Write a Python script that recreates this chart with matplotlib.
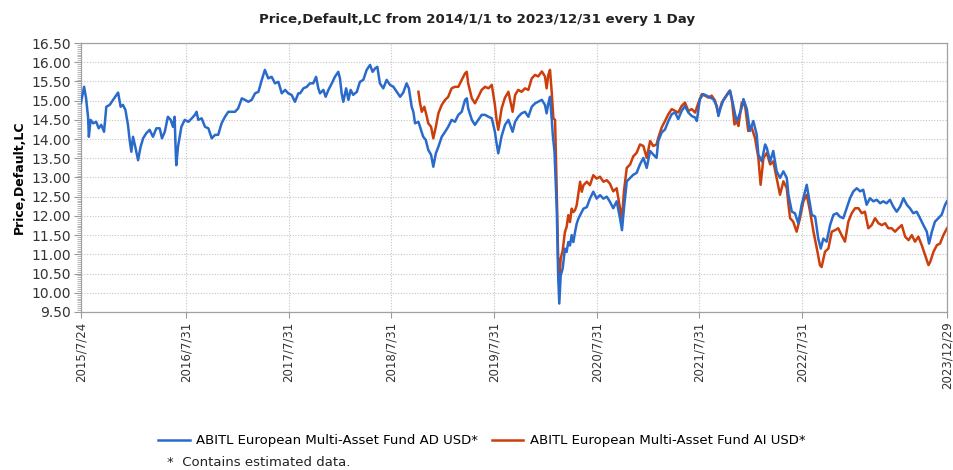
import matplotlib
matplotlib.use("Agg")
import matplotlib.pyplot as plt
from matplotlib.ticker import MultipleLocator, FormatStrFormatter
import pandas as pd

# ---- data ----
ad_dates = [
    "2015-07-24", "2015-08-04", "2015-08-11", "2015-08-18", "2015-08-21", "2015-08-27", "2015-09-05", "2015-09-16",
    "2015-09-25", "2015-10-04", "2015-10-14", "2015-10-22", "2015-11-03", "2015-11-15", "2015-11-27", "2015-12-03",
    "2015-12-12", "2015-12-20", "2015-12-29", "2016-01-07", "2016-01-13", "2016-01-19", "2016-01-25", "2016-02-02",
    "2016-02-12", "2016-02-21", "2016-03-01", "2016-03-12", "2016-03-24", "2016-04-05", "2016-04-17", "2016-04-29",
    "2016-05-07", "2016-05-17", "2016-05-28", "2016-06-07", "2016-06-15", "2016-06-21", "2016-06-25", "2016-06-27",
    "2016-07-03", "2016-07-15", "2016-07-27", "2016-08-09", "2016-08-21", "2016-09-01", "2016-09-07", "2016-09-13",
    "2016-09-25", "2016-10-07", "2016-10-19", "2016-10-31", "2016-11-12", "2016-11-23", "2016-12-05", "2016-12-17",
    "2016-12-29", "2017-01-10", "2017-01-22", "2017-02-02", "2017-02-15", "2017-02-26", "2017-03-10", "2017-03-22",
    "2017-04-03", "2017-04-15", "2017-04-27", "2017-05-08", "2017-05-20", "2017-06-01", "2017-06-13", "2017-06-25",
    "2017-07-07", "2017-07-19", "2017-07-30", "2017-08-11", "2017-08-23", "2017-09-04", "2017-09-10", "2017-09-22",
    "2017-10-04", "2017-10-15", "2017-10-27", "2017-11-06", "2017-11-14", "2017-11-20", "2017-12-02", "2017-12-10",
    "2017-12-20", "2018-01-01", "2018-01-12", "2018-01-24", "2018-01-30", "2018-02-05", "2018-02-11", "2018-02-21",
    "2018-03-01", "2018-03-09", "2018-03-18", "2018-03-31", "2018-04-11", "2018-04-23", "2018-05-05", "2018-05-17",
    "2018-05-26", "2018-06-04", "2018-06-12", "2018-06-21", "2018-07-03", "2018-07-15", "2018-07-27", "2018-08-08",
    "2018-08-20", "2018-09-01", "2018-09-12", "2018-09-24", "2018-10-02", "2018-10-12", "2018-10-18", "2018-10-24",
    "2018-11-05", "2018-11-14", "2018-11-22", "2018-12-01", "2018-12-10", "2018-12-20", "2018-12-28", "2019-01-06",
    "2019-01-15", "2019-01-27", "2019-02-08", "2019-02-19", "2019-03-03", "2019-03-15", "2019-03-27", "2019-04-08",
    "2019-04-20", "2019-04-26", "2019-05-01", "2019-05-14", "2019-05-25", "2019-06-06", "2019-06-18", "2019-06-30",
    "2019-07-12", "2019-07-24", "2019-08-04", "2019-08-10", "2019-08-16", "2019-08-28", "2019-09-09", "2019-09-21",
    "2019-10-06", "2019-10-15", "2019-10-26", "2019-11-07", "2019-11-19", "2019-12-01", "2019-12-13", "2019-12-25",
    "2020-01-05", "2020-01-18", "2020-01-29", "2020-02-04", "2020-02-10", "2020-02-16", "2020-02-22", "2020-02-26",
    "2020-03-03", "2020-03-11", "2020-03-16", "2020-03-20", "2020-03-25", "2020-04-01", "2020-04-09", "2020-04-15",
    "2020-04-21", "2020-04-27", "2020-05-03", "2020-05-09", "2020-05-15", "2020-05-21", "2020-05-27", "2020-06-02",
    "2020-06-14", "2020-06-26", "2020-07-07", "2020-07-19", "2020-07-31", "2020-08-12", "2020-08-24", "2020-09-05",
    "2020-09-16", "2020-09-28", "2020-10-10", "2020-10-22", "2020-10-29", "2020-11-05", "2020-11-15", "2020-11-27",
    "2020-12-08", "2020-12-20", "2021-01-01", "2021-01-13", "2021-01-25", "2021-02-06", "2021-02-17", "2021-03-01",
    "2021-03-07", "2021-03-19", "2021-03-31", "2021-04-12", "2021-04-24", "2021-05-06", "2021-05-17", "2021-05-29",
    "2021-06-10", "2021-06-22", "2021-07-04", "2021-07-16", "2021-07-22", "2021-08-02", "2021-08-14", "2021-08-26",
    "2021-09-07", "2021-09-19", "2021-10-01", "2021-10-07", "2021-10-13", "2021-10-24", "2021-11-05", "2021-11-17",
    "2021-11-23", "2021-12-05", "2021-12-11", "2021-12-17", "2021-12-29", "2022-01-04", "2022-01-16", "2022-01-27",
    "2022-02-08", "2022-02-20", "2022-02-26", "2022-03-10", "2022-03-22", "2022-03-28", "2022-04-09", "2022-04-20",
    "2022-05-02", "2022-05-14", "2022-05-26", "2022-06-07", "2022-06-13", "2022-06-25", "2022-07-06", "2022-07-18",
    "2022-07-30", "2022-08-11", "2022-08-17", "2022-08-23", "2022-09-04", "2022-09-16", "2022-09-27", "2022-10-06",
    "2022-10-15", "2022-10-27", "2022-11-08", "2022-11-20", "2022-12-02", "2022-12-13", "2022-12-25", "2023-01-06",
    "2023-01-18", "2023-01-30", "2023-02-11", "2023-02-23", "2023-03-06", "2023-03-18", "2023-03-30", "2023-04-11",
    "2023-04-23", "2023-05-05", "2023-05-16", "2023-05-28", "2023-06-09", "2023-06-21", "2023-07-03", "2023-07-15",
    "2023-07-27", "2023-08-08", "2023-08-19", "2023-08-31", "2023-09-12", "2023-09-24", "2023-10-06", "2023-10-18",
    "2023-10-26", "2023-11-05", "2023-11-16", "2023-11-28", "2023-12-10", "2023-12-22", "2023-12-29",
]
ad_values = [
    14.95, 15.36, 15.07, 14.58, 14.06, 14.50, 14.41, 14.45,
    14.28, 14.37, 14.19, 14.84, 14.89, 15.02, 15.15, 15.21,
    14.84, 14.89, 14.76, 14.37, 13.98, 13.67, 14.06, 13.80,
    13.45, 13.80, 14.02, 14.15, 14.24, 14.06, 14.28, 14.28,
    14.02, 14.19, 14.58, 14.50, 14.32, 14.58, 13.63, 13.32,
    13.80, 14.32, 14.50, 14.45, 14.54, 14.63, 14.71, 14.50,
    14.54, 14.32, 14.28, 14.02, 14.11, 14.11, 14.41, 14.58,
    14.71, 14.71, 14.71, 14.80, 15.06, 15.02, 14.97, 15.02,
    15.19, 15.23, 15.54, 15.80, 15.58, 15.62, 15.45, 15.49,
    15.19, 15.28, 15.19, 15.15, 14.97, 15.19, 15.19, 15.32,
    15.36, 15.45, 15.45, 15.62, 15.32, 15.19, 15.28, 15.10,
    15.28, 15.45, 15.62, 15.75, 15.58, 15.19, 14.97, 15.32,
    15.02, 15.28, 15.15, 15.23, 15.49, 15.54, 15.80, 15.93,
    15.75, 15.84, 15.88, 15.45, 15.32, 15.54, 15.41, 15.36,
    15.23, 15.10, 15.21, 15.45, 15.32, 14.84, 14.71, 14.41,
    14.45, 14.24, 14.06, 13.98, 13.72, 13.59, 13.28, 13.63,
    13.80, 14.06, 14.19, 14.32, 14.50, 14.45, 14.63, 14.71,
    15.02, 15.06, 14.80, 14.50, 14.37, 14.50, 14.63, 14.63,
    14.58, 14.54, 14.19, 13.89, 13.63, 14.08, 14.37, 14.50,
    14.19, 14.45, 14.58, 14.67, 14.71, 14.58, 14.84, 14.93,
    14.97, 15.02, 14.89, 14.67, 14.93, 15.10, 14.54, 14.10,
    13.67, 12.19, 10.45, 9.72, 10.45, 10.63, 11.15, 11.06,
    11.32, 11.23, 11.50, 11.32, 11.58, 11.80, 11.93, 12.02,
    12.19, 12.23, 12.45, 12.63, 12.45, 12.54, 12.45, 12.50,
    12.37, 12.20, 12.38, 11.94, 11.63, 12.20, 12.90, 12.99,
    13.07, 13.12, 13.34, 13.51, 13.25, 13.69, 13.60, 13.51,
    13.95, 14.17, 14.25, 14.47, 14.65, 14.69, 14.52, 14.73,
    14.86, 14.69, 14.60, 14.56, 14.47, 15.04, 15.17, 15.13,
    15.08, 15.04, 14.86, 14.60, 14.78, 15.00, 15.13, 15.26,
    15.08, 14.65, 14.47, 14.56, 14.82, 15.04, 14.78, 14.21,
    14.47, 14.12, 13.60, 13.42, 13.86, 13.77, 13.42, 13.69,
    13.16, 12.99, 13.16, 12.99, 12.55, 12.11, 12.07, 11.81,
    12.29, 12.64, 12.81, 12.55, 12.03, 11.98, 11.41, 11.15,
    11.41, 11.33, 11.76, 12.03, 12.07, 11.98, 11.94, 12.20,
    12.46, 12.64, 12.72, 12.64, 12.68, 12.29, 12.46, 12.38,
    12.42, 12.33, 12.38, 12.33, 12.42, 12.24, 12.11, 12.24,
    12.46, 12.29, 12.20, 12.07, 12.11, 11.94, 11.76, 11.59,
    11.28, 11.59, 11.85, 11.94, 12.03, 12.29, 12.38,
]

ai_dates = [
    "2018-11-05", "2018-11-11", "2018-11-17", "2018-11-26", "2018-12-05", "2018-12-10", "2018-12-20", "2018-12-28",
    "2019-01-06", "2019-01-15", "2019-01-27", "2019-02-08", "2019-02-19", "2019-03-03", "2019-03-15", "2019-03-27",
    "2019-04-08", "2019-04-20", "2019-04-26", "2019-05-01", "2019-05-14", "2019-05-25", "2019-06-06", "2019-06-18",
    "2019-06-30", "2019-07-12", "2019-07-24", "2019-08-04", "2019-08-10", "2019-08-16", "2019-08-28", "2019-09-09",
    "2019-09-21", "2019-10-06", "2019-10-15", "2019-10-26", "2019-11-07", "2019-11-19", "2019-12-01", "2019-12-13",
    "2019-12-25", "2020-01-05", "2020-01-18", "2020-01-29", "2020-02-04", "2020-02-10", "2020-02-16", "2020-02-22",
    "2020-02-28", "2020-03-05", "2020-03-11", "2020-03-16", "2020-03-19", "2020-03-25", "2020-04-01", "2020-04-09",
    "2020-04-15", "2020-04-21", "2020-04-27", "2020-05-03", "2020-05-09", "2020-05-15", "2020-05-21", "2020-06-02",
    "2020-06-08", "2020-06-14", "2020-06-26", "2020-07-07", "2020-07-19", "2020-07-31", "2020-08-12", "2020-08-24",
    "2020-09-05", "2020-09-16", "2020-09-28", "2020-10-10", "2020-10-22", "2020-10-29", "2020-11-05", "2020-11-15",
    "2020-11-27", "2020-12-08", "2020-12-20", "2021-01-01", "2021-01-13", "2021-01-25", "2021-02-06", "2021-02-17",
    "2021-03-01", "2021-03-07", "2021-03-19", "2021-03-31", "2021-04-12", "2021-04-24", "2021-05-06", "2021-05-17",
    "2021-05-29", "2021-06-10", "2021-06-22", "2021-07-04", "2021-07-16", "2021-07-28", "2021-08-09", "2021-08-20",
    "2021-09-01", "2021-09-13", "2021-09-25", "2021-10-07", "2021-10-19", "2021-10-30", "2021-11-11", "2021-11-17",
    "2021-11-25", "2021-12-03", "2021-12-11", "2021-12-17", "2021-12-29", "2022-01-10", "2022-01-21", "2022-02-02",
    "2022-02-14", "2022-02-26", "2022-03-06", "2022-03-16", "2022-03-28", "2022-04-09", "2022-04-20", "2022-05-02",
    "2022-05-14", "2022-05-26", "2022-06-07", "2022-06-13", "2022-06-19", "2022-06-30", "2022-07-12", "2022-07-24",
    "2022-08-05", "2022-08-17", "2022-08-29", "2022-09-10", "2022-09-22", "2022-10-03", "2022-10-09", "2022-10-21",
    "2022-11-02", "2022-11-14", "2022-11-26", "2022-12-07", "2022-12-19", "2022-12-31", "2023-01-12", "2023-01-24",
    "2023-02-05", "2023-02-17", "2023-03-01", "2023-03-12", "2023-03-24", "2023-04-05", "2023-04-17", "2023-04-29",
    "2023-05-11", "2023-05-23", "2023-06-03", "2023-06-15", "2023-06-27", "2023-07-09", "2023-07-21", "2023-08-02",
    "2023-08-14", "2023-08-26", "2023-09-06", "2023-09-18", "2023-09-30", "2023-10-12", "2023-10-24", "2023-10-30",
    "2023-11-11", "2023-11-23", "2023-12-04", "2023-12-16", "2023-12-29",
]
ai_values = [
    15.23, 14.93, 14.71, 14.84, 14.58, 14.41, 14.32, 14.02,
    14.32, 14.67, 14.89, 15.02, 15.10, 15.32, 15.36, 15.36,
    15.54, 15.71, 15.75, 15.45, 15.06, 14.93, 15.10, 15.28,
    15.36, 15.32, 15.41, 14.89, 14.50, 14.24, 14.80, 15.08,
    15.23, 14.71, 15.15, 15.28, 15.23, 15.32, 15.28, 15.58,
    15.67, 15.63, 15.76, 15.63, 15.32, 15.67, 15.80, 15.23,
    14.54, 14.50, 12.63, 10.89, 10.22, 10.89, 11.10, 11.58,
    11.71, 12.02, 11.84, 12.19, 12.10, 12.15, 12.28, 12.89,
    12.63, 12.80, 12.89, 12.80, 13.06, 12.97, 13.02, 12.89,
    12.93, 12.84, 12.64, 12.72, 12.20, 11.94, 12.64, 13.25,
    13.34, 13.55, 13.64, 13.86, 13.82, 13.51, 13.95, 13.82,
    13.86, 14.03, 14.30, 14.47, 14.65, 14.78, 14.73, 14.69,
    14.86, 14.95, 14.73, 14.78, 14.69, 14.95, 15.17, 15.13,
    15.08, 15.13, 15.00, 14.65, 14.95, 15.08, 15.21, 15.26,
    14.95, 14.38, 14.47, 14.34, 14.95, 14.86, 14.21, 14.30,
    14.03, 13.51, 12.81, 13.51, 13.64, 13.34, 13.42, 12.99,
    12.55, 12.90, 12.72, 12.29, 11.94, 11.85, 11.59, 11.94,
    12.38, 12.55, 12.11, 11.59, 11.15, 10.72, 10.67, 11.07,
    11.15, 11.59, 11.63, 11.68, 11.50, 11.33, 11.85, 12.07,
    12.20, 12.20, 12.07, 12.11, 11.68, 11.76, 11.94, 11.81,
    11.76, 11.81, 11.68, 11.68, 11.59, 11.68, 11.76, 11.46,
    11.37, 11.50, 11.33, 11.46, 11.24, 10.98, 10.72, 10.80,
    11.07, 11.24, 11.28, 11.50, 11.68,
]

series_names = ["ABITL European Multi-Asset Fund AD USD*", "ABITL European Multi-Asset Fund AI USD*"]
series_colors = ["#2a6acb", "#cc3f0c"]
tick_dates = ["2015-07-24", "2016-07-31", "2017-07-31", "2018-07-31", "2019-07-31",
              "2020-07-31", "2021-07-31", "2022-07-31", "2023-12-29"]
tick_labels = ["2015/7/24", "2016/7/31", "2017/7/31", "2018/7/31", "2019/7/31",
               "2020/7/31", "2021/7/31", "2022/7/31", "2023/12/29"]
title = "Price,Default,LC from 2014/1/1 to 2023/12/31 every 1 Day"
y_label = "Price,Default,LC"
footnote = "*  Contains estimated data."

# ---- plot ----
fig = plt.figure(figsize=(9.54, 4.70), dpi=100)
ax = fig.add_axes([0.0849, 0.3362, 0.9078, 0.5723])

ad_x = pd.to_datetime(ad_dates)
ai_x = pd.to_datetime(ai_dates)
ax.plot(ad_x, ad_values, color=series_colors[0], lw=1.8, label=series_names[0], zorder=3)
ax.plot(ai_x, ai_values, color=series_colors[1], lw=1.8, label=series_names[1], zorder=2)

ticks = pd.to_datetime(tick_dates)
ax.set_xlim(ticks[0], ticks[-1])
ax.set_xticks(ticks)
ax.set_xticklabels(tick_labels, rotation=90, fontsize=8.5, color="#333333")
ax.set_ylim(9.5, 16.5)
ax.yaxis.set_major_locator(MultipleLocator(0.5))
ax.yaxis.set_minor_locator(MultipleLocator(0.05))
ax.yaxis.set_major_formatter(FormatStrFormatter("%.2f"))
for lab in ax.get_yticklabels():
    lab.set_fontsize(10)
    lab.set_color("#333333")

ax.grid(True, which="major", color="#c4c4c4", linestyle=(0, (1, 1.5)), linewidth=0.8)
ax.tick_params(axis="x", length=4, color="#999999", pad=3)
ax.tick_params(axis="y", which="major", length=5, color="#999999", pad=2)
ax.tick_params(axis="y", which="minor", length=3, color="#aaaaaa")
for s in ax.spines.values():
    s.set_color("#a0a0a8")
    s.set_linewidth(0.9)

ax.set_ylabel(y_label, fontsize=9, fontweight="bold", labelpad=4)
fig.text(0.5, 0.958, title, ha="center", va="center", fontsize=9.6, fontweight="bold", color="#222222")

fig.legend(loc="center", bbox_to_anchor=(0.505, 0.062), ncol=2, frameon=False, fontsize=9.5,
           handlelength=2.4, handletextpad=0.5, columnspacing=1.0)
fig.text(0.175, 0.016, footnote, fontsize=9.5, color="#222222", ha="left", va="center")

fig.savefig("out.png", dpi=100)
